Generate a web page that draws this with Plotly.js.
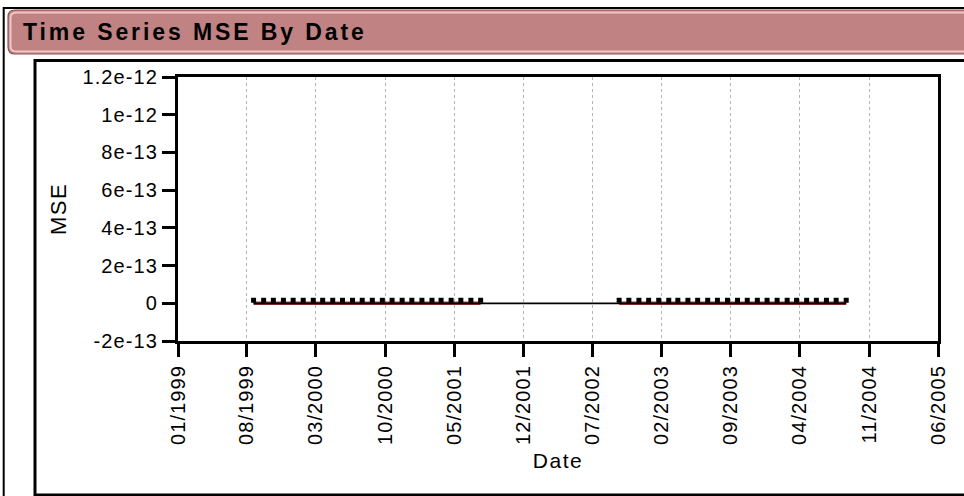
<!DOCTYPE html>
<html><head><meta charset="utf-8">
<script src="https://cdn.plot.ly/plotly-3.0.1.min.js"></script>
<style>
html,body{margin:0;padding:0;background:#fff;}
#chart{width:964px;height:496px;}
.xtick text,.ytick text{letter-spacing:1.1px;}
.g-xtitle text,.g-ytitle text{letter-spacing:1.5px;}
.annotation-text{letter-spacing:2.9px;}
</style></head><body><div id="chart"></div>
<script>
// ---- data ----
const chartTitle = 'Time Series MSE By Date';
const datesA = ['1999-08-22','1999-09-22','1999-10-22','1999-11-22','1999-12-22','2000-01-22','2000-02-22','2000-03-22','2000-04-22','2000-05-22','2000-06-22','2000-07-22','2000-08-22','2000-09-22','2000-10-22','2000-11-22','2000-12-22','2001-01-22','2001-02-22','2001-03-22','2001-04-22','2001-05-22','2001-06-22','2001-07-22'];
const mseA = [1.6e-14,1.6e-14,1.6e-14,1.6e-14,1.6e-14,1.6e-14,1.6e-14,1.6e-14,1.6e-14,1.6e-14,1.6e-14,1.6e-14,1.6e-14,1.6e-14,1.6e-14,1.6e-14,1.6e-14,1.6e-14,1.6e-14,1.6e-14,1.6e-14,1.6e-14,1.6e-14,1.6e-14];
const fitA = [0,0,0,0,0,0,0,0,0,0,0,0,0,0,0,0,0,0,0,0,0,0,0,0];
const datesB = ['2002-09-22','2002-10-22','2002-11-22','2002-12-22','2003-01-22','2003-02-22','2003-03-22','2003-04-22','2003-05-22','2003-06-22','2003-07-22','2003-08-22','2003-09-22','2003-10-22','2003-11-22','2003-12-22','2004-01-22','2004-02-22','2004-03-22','2004-04-22','2004-05-22','2004-06-22','2004-07-22','2004-08-22'];
const mseB = [1.6e-14,1.6e-14,1.6e-14,1.6e-14,1.6e-14,1.6e-14,1.6e-14,1.6e-14,1.6e-14,1.6e-14,1.6e-14,1.6e-14,1.6e-14,1.6e-14,1.6e-14,1.6e-14,1.6e-14,1.6e-14,1.6e-14,1.6e-14,1.6e-14,1.6e-14,1.6e-14,1.6e-14];
const fitB = [0,0,0,0,0,0,0,0,0,0,0,0,0,0,0,0,0,0,0,0,0,0,0,0];
const baseDates = ['1999-08-22','2004-08-22'];
const baseVals = [0,0];
const xTickVals = ['1999-01-01','1999-08-01','2000-03-01','2000-10-01','2001-05-01','2001-12-01','2002-07-01','2003-02-01','2003-09-01','2004-04-01','2004-11-01','2005-06-01'];
const xTickText = ['01/1999','08/1999','03/2000','10/2000','05/2001','12/2001','07/2002','02/2003','09/2003','04/2004','11/2004','06/2005'];
const yTickVals = [-2e-13,0,2e-13,4e-13,6e-13,8e-13,1e-12,1.2e-12];
const yTickText = ['-2e-13','0','2e-13','4e-13','6e-13','8e-13','1e-12','1.2e-12'];

// ---- geometry helpers (pixel -> paper) ----
const L=178, R=938, T=77, B=341;
const xp = v => (v-L)/(R-L);
const yp = v => (B-v)/(B-T);
const FONT = 'Arial, "Liberation Sans", sans-serif';

function pathPx(cmds){
  return cmds.map(c => typeof c === 'string' ? c : (xp(c[0]).toFixed(5)+','+yp(c[1]).toFixed(5))).join(' ');
}
const barPath = pathPx(['M',[1100,10],'L',[15,10],'Q',[8,10],[8,17],'L',[8,47],'Q',[8,54],[15,54],'L',[1100,54],'Z']);
const barInner = pathPx(['M',[1100,12.5],'L',[16,12.5],'Q',[10.5,12.5],[10.5,18],'L',[10.5,46],'Q',[10.5,51.5],[16,51.5],'L',[1100,51.5]]);

const traces = [
  {x: datesA, y: fitA, mode:'lines', line:{color:'#a53a3a', width:3.5}, hoverinfo:'skip', showlegend:false},
  {x: datesB, y: fitB, mode:'lines', line:{color:'#a53a3a', width:3.5}, hoverinfo:'skip', showlegend:false},
  {x: baseDates, y: baseVals, mode:'lines', line:{color:'#000', width:1.8}, showlegend:false},
  {x: datesA, y: mseA, mode:'markers', marker:{color:'#000', size:5, symbol:'square'}, showlegend:false},
  {x: datesB, y: mseB, mode:'markers', marker:{color:'#000', size:5, symbol:'square'}, showlegend:false}
];

const layout = {
  width:964, height:496,
  margin:{l:L, r:964-R, t:T, b:496-B, pad:0},
  paper_bgcolor:'#fff', plot_bgcolor:'#fff',
  font:{family:FONT, size:20, color:'#000'},
  showlegend:false,
  xaxis:{
    type:'date', range:['1999-01-01','2005-06-01'],
    tickmode:'array', tickvals:xTickVals, ticktext:xTickText, tickangle:-90,
    ticks:'outside', ticklen:13, tickwidth:3, tickcolor:'#000',
    showline:true, linecolor:'#000', linewidth:3, mirror:true,
    showgrid:true, gridcolor:'#b4b4b4', griddash:'dot', gridwidth:1,
    zeroline:false, automargin:false,
    tickfont:{family:FONT, size:20, color:'#000'},
    title:{text:'Date', font:{family:FONT, size:21, color:'#000'}, standoff:10}
  },
  yaxis:{
    range:[-2e-13,1.2e-12],
    tickmode:'array', tickvals:yTickVals, ticktext:yTickText,
    ticks:'outside', ticklen:13, tickwidth:3, tickcolor:'#000',
    showline:true, linecolor:'#000', linewidth:3, mirror:true,
    showgrid:false, zeroline:false, automargin:false,
    tickfont:{family:FONT, size:20, color:'#000'},
    title:{text:'MSE', font:{family:FONT, size:22, color:'#000'}, standoff:10}
  },
  shapes:[
    {type:'rect', xref:'paper', yref:'paper', x0:xp(3.7), x1:xp(1100), y0:yp(8), y1:yp(600), line:{color:'#000', width:2}, fillcolor:'rgba(0,0,0,0)'},
    {type:'path', xref:'paper', yref:'paper', path:barPath, fillcolor:'#c08282', line:{color:'#8e5555', width:1.2}},
    {type:'path', xref:'paper', yref:'paper', path:barInner, fillcolor:'rgba(0,0,0,0)', line:{color:'#f2c6c6', width:2}},
    {type:'rect', xref:'paper', yref:'paper', x0:xp(35), x1:xp(1100), y0:yp(60.5), y1:yp(495), line:{color:'#000', width:3}, fillcolor:'rgba(0,0,0,0)'}
  ],
  annotations:[
    {xref:'paper', yref:'paper', x:xp(21), y:yp(32), xanchor:'left', yanchor:'middle', showarrow:false,
     text:'<b>'+chartTitle+'</b>', font:{family:FONT, size:23, color:'#000'}}
  ]
};

Plotly.newPlot('chart', traces, layout, {staticPlot:true, displayModeBar:false});
</script>
</body></html>
